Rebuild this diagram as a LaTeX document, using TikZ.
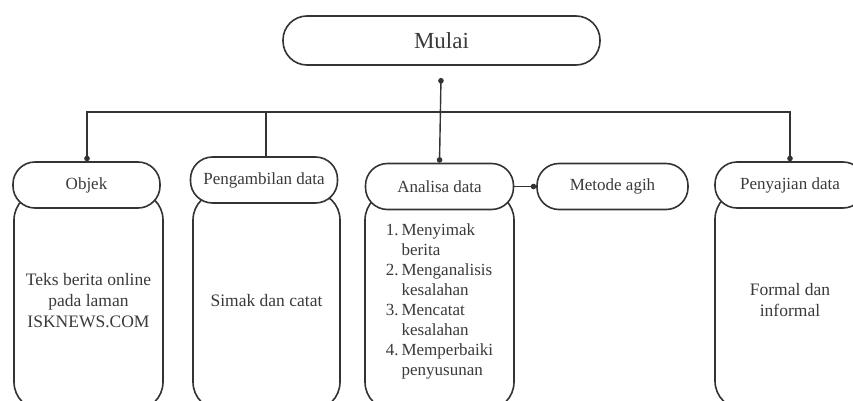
\documentclass[tikz,border=0pt]{standalone}
\usepackage{fontspec}
\setmainfont{Liberation Serif}
\usetikzlibrary{arrows.meta}
\definecolor{ln}{HTML}{333333}
\definecolor{tx}{HTML}{3A3A3A}
\tikzset{
  stad/.style={draw=ln, line width=1.6pt, fill=white, rectangle, rounded corners=22pt,
    minimum height=46pt, inner sep=1pt, text=tx, font=\fontsize{17}{20}\selectfont},
  tall/.style={draw=ln, line width=1.6pt, fill=white, rectangle, rounded corners=28pt,
    minimum height=218pt, inner sep=2pt, text=tx, align=center, font=\fontsize{17.5}{21}\selectfont},
  conn/.style={draw=ln, line width=1.4pt},
  bothdots/.style={{Circle[length=5.5pt,width=5.5pt]}-{Circle[length=5.5pt,width=5.5pt]}},
  enddot/.style={-{Circle[length=5.5pt,width=5.5pt]}}
}
\begin{document}
\begin{tikzpicture}[x=1pt,y=-1pt]
\useasboundingbox (0,0) rectangle (853,401);
\clip (0,0) rectangle (853,401);
\fill[white] (0,0) rectangle (853,401);
% tall boxes
\node[tall, minimum width=149pt] (obb) at (88.5,301) {Teks berita online\\pada laman\\ISKNEWS.COM};
\node[tall, minimum width=147pt] (pgb) at (266.5,301) {Simak dan catat};
\node[tall, minimum width=149pt] (anb) at (439.5,301) {%
  \fontsize{17}{20}\selectfont
  \begin{tabular}{@{}r@{\hspace{3pt}}l@{}}
  1. & Menyimak\\
     & berita\\
  2. & Menganalisis\\
     & kesalahan\\
  3. & Mencatat\\
     & kesalahan\\
  4. & Memperbaiki\\
     & penyusunan
  \end{tabular}};
\node[tall, minimum width=150pt] (pjb) at (790,300) {Formal dan\\informal};
% stadium boxes
\node[stad, minimum width=317pt, rounded corners=24pt, minimum height=49pt,
      font=\fontsize{23}{26}\selectfont] (mulai) at (441.5,40.5) {Mulai};
\node[stad, minimum width=147pt] (ob) at (86.5,185) {Objek};
\node[stad, minimum width=147pt] (pg) at (264,180) {Pengambilan data};
\node[stad, minimum width=148pt] (an) at (439.5,186.5) {Analisa data};
\node[stad, minimum width=151pt] (mt) at (612.5,186.5) {Metode agih};
\node[stad, minimum width=150pt] (pj) at (790,185) {Penyajian data};
% connectors
\coordinate (m0) at (441,78);
\coordinate (bar) at (441,112);
\draw[conn, bothdots] (m0) -- (an.north);
\draw[conn, bothdots] (ob.north -| 87,0) |- (bar) -| (pj.north);
\draw[conn] (pg.north -| 266,0) -- (266,112);
\draw[conn, enddot] (an.east) -- (mt.west);
\end{tikzpicture}
\end{document}
